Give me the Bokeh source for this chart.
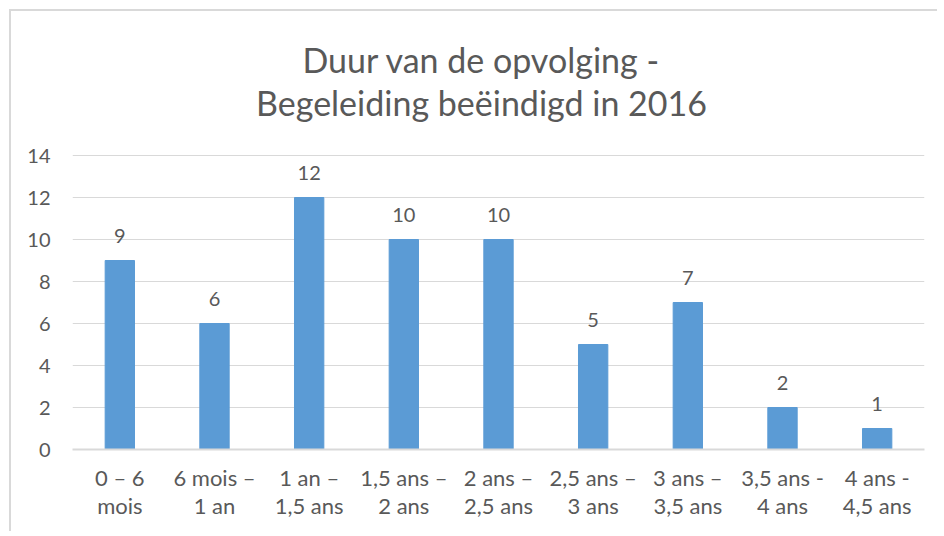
from bokeh.plotting import figure
from bokeh.models import ColumnDataSource, FixedTicker, LabelSet, Label
from bokeh.core.properties import value
from bokeh.embed import file_html
from bokeh.resources import INLINE

categories = ["0 – 6\nmois", "6 mois –\n1 an", "1 an –\n1,5 ans", "1,5 ans –\n2 ans",
              "2 ans –\n2,5 ans", "2,5 ans –\n3 ans", "3 ans –\n3,5 ans",
              "3,5 ans -\n4 ans", "4 ans -\n4,5 ans"]
values = [9, 6, 12, 10, 10, 5, 7, 2, 1]
y_ticks = [0, 2, 4, 6, 8, 10, 12, 14]
title_lines = ["Duur van de opvolging -", "Begeleiding beëindigd in 2016"]

FONT = "Lato"
GREY = "#595959"

# The plot frame extends up to the top of the canvas so the title (drawn as
# labels in screen units) is not clipped; the value axis itself shows 0..14.
FRAME_H = 438
AXIS_H = 294
y_end = y_ticks[-1] * FRAME_H / AXIS_H

src = ColumnDataSource(dict(cat=categories, val=values, lbl=[str(v) for v in values]))

p = figure(x_range=categories, y_range=(0, y_end), width=928, height=522,
           output_backend="svg", toolbar_location=None,
           min_border_left=61, min_border_right=15, min_border_top=0, min_border_bottom=84)
p.styles = {"border-left": "2px solid #d9d9d9", "border-top": "2px solid #d9d9d9",
            "margin-left": "9px", "margin-top": "9px"}

p.vbar(x="cat", top="val", width=0.31, source=src, color="#5B9BD5")
labels = LabelSet(x="cat", y="val", text="lbl", source=src, text_align="center",
                  text_baseline="bottom", y_offset=18, text_font=value(FONT),
                  text_font_size="20px", text_color=GREY)
p.add_layout(labels)

p.title.visible = False
for line, yy in zip(title_lines, [390, 347]):
    p.add_layout(Label(x=409, y=yy, x_units="screen", y_units="screen", text=line,
                       text_align="center", text_baseline="middle", text_font=FONT,
                       text_font_size="34px", text_color=GREY))

p.outline_line_color = None
p.xgrid.grid_line_color = None
p.ygrid.grid_line_color = "#d9d9d9"
p.yaxis.ticker = FixedTicker(ticks=y_ticks)
p.yaxis.axis_line_color = None
p.yaxis.major_tick_line_color = None
p.yaxis.minor_tick_line_color = None
p.yaxis.major_label_text_font = FONT
p.yaxis.major_label_text_font_size = "20px"
p.yaxis.major_label_text_color = GREY
p.yaxis.major_label_standoff = 16

p.xaxis.axis_line_color = "#d9d9d9"
p.xaxis.axis_line_width = 2
p.xaxis.major_tick_line_color = None
p.xaxis.minor_tick_line_color = None
p.xaxis.major_label_text_font = FONT
p.xaxis.major_label_text_font_size = "22px"
p.xaxis.major_label_text_color = GREY
p.xaxis.major_label_standoff = 8
p.xaxis.major_label_text_line_height = 1.05
p.x_range.range_padding = 0

open("out.html", "w").write(file_html(p, INLINE))
